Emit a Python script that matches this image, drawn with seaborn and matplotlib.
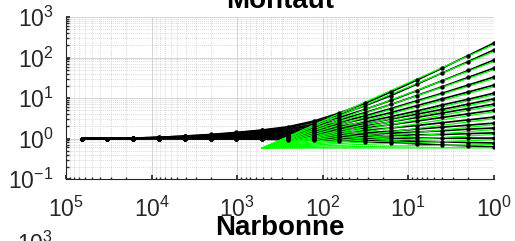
import numpy as np
import pandas as pd
import matplotlib
matplotlib.use('Agg')
import matplotlib.pyplot as plt
import seaborn as sns
from matplotlib.ticker import LogLocator, NullFormatter

# x positions of the dots (powers of two, from 2^16 down to 1)
x_pts = [65536, 32768, 16384, 8192, 4096, 2048, 1024, 512, 256, 128, 64, 32, 16, 8, 4, 2, 1]

# black curves, log10 of the value at each x in x_pts
c01 = [0, 0, 0.01, 0.03, 0.06, 0.10, 0.15, 0.21, 0.29, 0.43, 0.63, 0.87, 1.15, 1.44, 1.74, 2.05, 2.36]
c02 = [0, 0, 0.01, 0.03, 0.06, 0.09, 0.14, 0.20, 0.27, 0.40, 0.58, 0.81, 1.06, 1.34, 1.62, 1.90, 2.19]
c03 = [0, 0, 0.01, 0.02, 0.05, 0.08, 0.12, 0.17, 0.24, 0.35, 0.52, 0.72, 0.94, 1.18, 1.43, 1.68, 1.94]
c04 = [0, 0, 0.01, 0.02, 0.04, 0.07, 0.11, 0.16, 0.22, 0.31, 0.46, 0.64, 0.84, 1.06, 1.28, 1.51, 1.74]
c05 = [0, 0, 0.01, 0.02, 0.04, 0.07, 0.10, 0.14, 0.19, 0.27, 0.40, 0.56, 0.74, 0.93, 1.12, 1.32, 1.52]
c06 = [0, 0, 0.01, 0.02, 0.03, 0.06, 0.09, 0.12, 0.16, 0.24, 0.35, 0.49, 0.64, 0.81, 0.98, 1.15, 1.32]
c07 = [0, 0, 0.00, 0.01, 0.03, 0.05, 0.07, 0.10, 0.14, 0.20, 0.30, 0.41, 0.54, 0.68, 0.83, 0.97, 1.12]
c08 = [0, 0, 0.00, 0.01, 0.03, 0.04, 0.06, 0.09, 0.12, 0.18, 0.26, 0.36, 0.48, 0.60, 0.72, 0.85, 0.98]
c09 = [0, 0, 0.00, 0.01, 0.02, 0.04, 0.05, 0.08, 0.11, 0.15, 0.23, 0.31, 0.41, 0.52, 0.63, 0.74, 0.85]
c10 = [0, 0, 0.00, 0.01, 0.02, 0.03, 0.05, 0.06, 0.09, 0.13, 0.19, 0.26, 0.34, 0.43, 0.52, 0.61, 0.70]
c11 = [0, 0, 0.00, 0.01, 0.01, 0.02, 0.03, 0.05, 0.07, 0.10, 0.14, 0.20, 0.26, 0.32, 0.39, 0.46, 0.53]
c12 = [0, 0, 0.00, 0.01, 0.01, 0.02, 0.02, 0.03, 0.05, 0.07, 0.10, 0.14, 0.18, 0.23, 0.28, 0.33, 0.38]
c13 = [0, 0, 0.00, 0.00, 0.01, 0.01, 0.02, 0.02, 0.03, 0.05, 0.07, 0.10, 0.13, 0.16, 0.19, 0.23, 0.26]
c14 = [0, 0, 0.00, 0.00, 0.00, 0.01, 0.01, 0.01, 0.02, 0.03, 0.04, 0.05, 0.07, 0.09, 0.10, 0.12, 0.14]
c15 = [0, 0, 0.00, 0.00, 0.00, 0.00, 0.00, 0.00, 0.00, 0.00, 0.00, 0.00, 0.01, 0.01, 0.01, 0.01, 0.01]
c16 = [0, 0, 0.00, 0.00, 0.00, -0.01, -0.01, -0.01, -0.01, -0.02, -0.03, -0.04, -0.05, -0.07, -0.08, -0.10, -0.11]
c17 = [0, 0, 0.00, 0.00, -0.01, -0.01, -0.01, -0.02, -0.03, -0.04, -0.06, -0.08, -0.10, -0.13, -0.16, -0.18, -0.21]
black_curves = [c01, c02, c03, c04, c05, c06, c07, c08, c09, c10,
                c11, c12, c13, c14, c15, c16, c17]

# green lines: common start point, one end (log10) per line at x = 1
green_x = [512, 1]
green_start = 0.58
green_end_log = [2.32, 2.15, 1.90, 1.70, 1.48, 1.28, 1.08, 0.94, 0.81, 0.66,
                 0.49, 0.34, 0.22, 0.10, -0.03, -0.15, -0.23]

sns.set_theme(style='ticks')
plt.rcParams['font.family'] = ['Liberation Sans', 'DejaVu Sans']
plt.rcParams['mathtext.fontset'] = 'custom'
plt.rcParams['mathtext.rm'] = 'Liberation Sans'
plt.rcParams['axes.unicode_minus'] = False

fig = plt.figure(figsize=(5.15, 2.41), dpi=100)
ax = fig.add_axes([0.1282, 0.2573, 0.831, 0.672])
ax.set_xscale('log')
ax.set_yscale('log')

# long tables for seaborn
rec = []
for i, curve in enumerate(black_curves):
    for xv, lv in zip(x_pts, curve):
        rec.append({'x': xv, 'y': 10 ** lv, 'curve': i})
df_black = pd.DataFrame(rec)

rec = []
for i, e in enumerate(green_end_log):
    rec.append({'x': green_x[0], 'y': green_start, 'line': i})
    rec.append({'x': green_x[1], 'y': 10 ** e, 'line': i})
df_green = pd.DataFrame(rec)

sns.lineplot(data=df_black, x='x', y='y', units='curve', estimator=None,
             color='black', lw=1.2, ax=ax, zorder=2, legend=False)
sns.lineplot(data=df_green, x='x', y='y', units='line', estimator=None,
             color='#00ff00', lw=0.9, ax=ax, zorder=3, legend=False)
sns.scatterplot(data=df_black, x='x', y='y', color='black', s=10,
                linewidth=0, ax=ax, zorder=4, legend=False)

ax.set_xlim(1e5, 1e0)
ax.set_ylim(1e-1, 1e3)
ax.set_xlabel('')
ax.set_ylabel('')
ax.xaxis.set_major_locator(LogLocator(base=10, numticks=10))
ax.yaxis.set_major_locator(LogLocator(base=10, numticks=10))
ax.xaxis.set_minor_locator(LogLocator(base=10, subs=np.arange(2, 10), numticks=20))
ax.yaxis.set_minor_locator(LogLocator(base=10, subs=np.arange(2, 10), numticks=20))
ax.xaxis.set_minor_formatter(NullFormatter())
ax.yaxis.set_minor_formatter(NullFormatter())

# matlab-like grid, box off
ax.grid(True, which='major', color='#cfcfcf', lw=0.6, ls='-')
ax.grid(True, which='minor', color='#c4c4c4', lw=0.55, ls=':')
ax.set_axisbelow(True)
for s in ['top', 'right']:
    ax.spines[s].set_visible(False)
for s in ['left', 'bottom']:
    ax.spines[s].set_color('#262626')
    ax.spines[s].set_linewidth(0.8)
ax.tick_params(which='both', direction='in', colors='#262626', labelsize=16.5)
ax.tick_params(which='major', length=3)
ax.tick_params(which='minor', length=1.8)
ax.tick_params(axis='x', pad=13)
ax.tick_params(axis='y', pad=9)

# titles of this panel and of the next one (both cut by the crop)
fig.text(280 / 515, 1 - 7.5 / 241, 'Montaut', ha='center', va='baseline',
         fontsize=20, fontweight='bold', color='black')
fig.text(280 / 515, 1 - 235 / 241, 'Narbonne', ha='center', va='baseline',
         fontsize=20, fontweight='bold', color='black')
fig.text(53 / 515, -0.012, r'$\mathdefault{10^{3}}$', ha='right', va='center',
         fontsize=16.5, color='#262626')

fig.savefig('out.png', dpi=100)
